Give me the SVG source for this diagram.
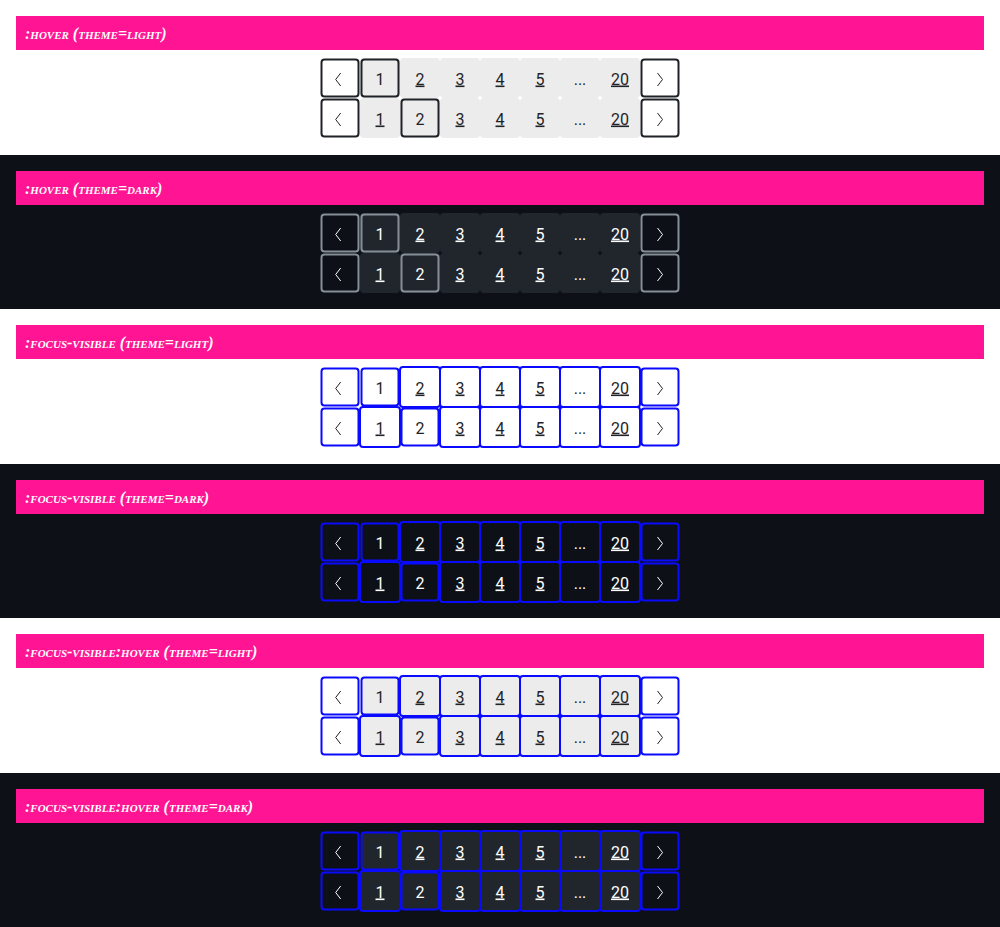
<svg xmlns="http://www.w3.org/2000/svg" width="1000" height="927" viewBox="0 0 1000 927">
<style>
.hdr{fill:#ff1493}
.ht{fill:#fff;font-family:"Liberation Serif",serif;font-size:16px;font-weight:bold;font-style:italic;font-variant:small-caps}
.n{font-family:Roboto,"Liberation Sans",sans-serif;font-size:16px;text-anchor:middle}
.u{text-decoration:underline}
.tl{fill:#1f2328}
.td{fill:#ffffff}
.chl{fill:none;stroke:#1f2328;stroke-width:1}
.chd{fill:none;stroke:#ffffff;stroke-width:1}
.gl{fill:#ececec}
.gd{fill:#21262d}
.bl{stroke:#1f2328;stroke-width:2}
.bd{stroke:#868e96;stroke-width:2}
.fo{stroke:#0a0aff;stroke-width:2}
.w{fill:#fff}
.k{fill:#0d1117}
.nf{fill:none}
</style>
<rect x="0" y="0" width="1000" height="927" fill="#fff"/>

<!-- Section 1: hover light -->
<g id="sec-hover-light" transform="translate(0,0)">
<g id="hdr1"><rect class="hdr" x="16" y="16" width="968" height="34"/><text class="ht" x="25" y="38.5">:hover (theme=light)</text></g>
<g id="pg1">
<g id="pg1-tiles" class="gl">
<rect x="360" y="58" width="40" height="40" rx="4"/><rect x="400" y="58" width="40" height="40" rx="4"/><rect x="440" y="58" width="40" height="40" rx="4"/><rect x="480" y="58" width="40" height="40" rx="4"/><rect x="520" y="58" width="40" height="40" rx="4"/><rect x="560" y="58" width="40" height="40" rx="4"/><rect x="600" y="58" width="40" height="40" rx="4"/>
<rect x="360" y="98" width="40" height="40" rx="4"/><rect x="400" y="98" width="40" height="40" rx="4"/><rect x="440" y="98" width="40" height="40" rx="4"/><rect x="480" y="98" width="40" height="40" rx="4"/><rect x="520" y="98" width="40" height="40" rx="4"/><rect x="560" y="98" width="40" height="40" rx="4"/><rect x="600" y="98" width="40" height="40" rx="4"/>
</g>
<rect class="w bl" x="321.5" y="59.5" width="37" height="37" rx="3"/>
<rect class="nf bl" x="361.5" y="59.5" width="37" height="37" rx="3"/>
<rect class="w bl" x="641.5" y="59.5" width="37" height="37" rx="3"/>
<rect class="w bl" x="321.5" y="99.5" width="37" height="37" rx="3"/>
<rect class="nf bl" x="401.5" y="99.5" width="37" height="37" rx="3"/>
<rect class="w bl" x="641.5" y="99.5" width="37" height="37" rx="3"/>
<path class="chl" d="M340.7 73L335.7 79.5L340.7 86M657.5 73L662.5 79.5L657.5 86M340.7 113L335.7 119.5L340.7 126M657.5 113L662.5 119.5L657.5 126"/>
<g class="tl">
<text class="n" x="380" y="84.5">1</text><text class="n u" x="420" y="84.5">2</text><text class="n u" x="460" y="84.5">3</text><text class="n u" x="500" y="84.5">4</text><text class="n u" x="540" y="84.5">5</text><text class="n" x="580" y="84.5">...</text><text class="n u" x="620" y="84.5">20</text>
<text class="n u" x="380" y="124.5">1</text><text class="n" x="420" y="124.5">2</text><text class="n u" x="460" y="124.5">3</text><text class="n u" x="500" y="124.5">4</text><text class="n u" x="540" y="124.5">5</text><text class="n" x="580" y="124.5">...</text><text class="n u" x="620" y="124.5">20</text>
</g>
</g>
</g>

<!-- Section 2: hover dark -->
<g id="sec-hover-dark" transform="translate(0,155)">
<rect class="k" x="0" y="0" width="1000" height="154"/>
<g id="hdr2"><rect class="hdr" x="16" y="16" width="968" height="34"/><text class="ht" x="25" y="38.5">:hover (theme=dark)</text></g>
<g id="pg2">
<g id="pg2-tiles" class="gd">
<rect x="360" y="58" width="40" height="40" rx="4"/><rect x="400" y="58" width="40" height="40" rx="4"/><rect x="440" y="58" width="40" height="40" rx="4"/><rect x="480" y="58" width="40" height="40" rx="4"/><rect x="520" y="58" width="40" height="40" rx="4"/><rect x="560" y="58" width="40" height="40" rx="4"/><rect x="600" y="58" width="40" height="40" rx="4"/>
<rect x="360" y="98" width="40" height="40" rx="4"/><rect x="400" y="98" width="40" height="40" rx="4"/><rect x="440" y="98" width="40" height="40" rx="4"/><rect x="480" y="98" width="40" height="40" rx="4"/><rect x="520" y="98" width="40" height="40" rx="4"/><rect x="560" y="98" width="40" height="40" rx="4"/><rect x="600" y="98" width="40" height="40" rx="4"/>
</g>
<rect class="k bd" x="321.5" y="59.5" width="37" height="37" rx="3"/>
<rect class="nf bd" x="361.5" y="59.5" width="37" height="37" rx="3"/>
<rect class="k bd" x="641.5" y="59.5" width="37" height="37" rx="3"/>
<rect class="k bd" x="321.5" y="99.5" width="37" height="37" rx="3"/>
<rect class="nf bd" x="401.5" y="99.5" width="37" height="37" rx="3"/>
<rect class="k bd" x="641.5" y="99.5" width="37" height="37" rx="3"/>
<path class="chd" d="M340.7 73L335.7 79.5L340.7 86M657.5 73L662.5 79.5L657.5 86M340.7 113L335.7 119.5L340.7 126M657.5 113L662.5 119.5L657.5 126"/>
<g class="td">
<text class="n" x="380" y="84.5">1</text><text class="n u" x="420" y="84.5">2</text><text class="n u" x="460" y="84.5">3</text><text class="n u" x="500" y="84.5">4</text><text class="n u" x="540" y="84.5">5</text><text class="n" x="580" y="84.5">...</text><text class="n u" x="620" y="84.5">20</text>
<text class="n u" x="380" y="124.5">1</text><text class="n" x="420" y="124.5">2</text><text class="n u" x="460" y="124.5">3</text><text class="n u" x="500" y="124.5">4</text><text class="n u" x="540" y="124.5">5</text><text class="n" x="580" y="124.5">...</text><text class="n u" x="620" y="124.5">20</text>
</g>
</g>
</g>

<!-- Section 3: focus-visible light -->
<g id="sec-focus-light" transform="translate(0,309)">
<g id="hdr3"><rect class="hdr" x="16" y="16" width="968" height="34"/><text class="ht" x="25" y="38.5">:focus-visible (theme=light)</text></g>
<g id="pg3" class="w fo">
<rect x="321.5" y="59.5" width="37" height="37" rx="3"/>
<rect x="361.5" y="59.5" width="37" height="37" rx="3"/>
<rect x="641.5" y="59.5" width="37" height="37" rx="3"/>
<rect x="400" y="58" width="40" height="40" rx="3"/><rect x="440" y="58" width="40" height="40" rx="3"/><rect x="480" y="58" width="40" height="40" rx="3"/><rect x="520" y="58" width="40" height="40" rx="3"/><rect x="560" y="58" width="40" height="40" rx="3"/><rect x="600" y="58" width="40" height="40" rx="3"/>
<rect x="321.5" y="99.5" width="37" height="37" rx="3"/>
<rect x="401.5" y="99.5" width="37" height="37" rx="3"/>
<rect x="641.5" y="99.5" width="37" height="37" rx="3"/>
<rect x="360" y="98" width="40" height="40" rx="3"/><rect x="440" y="98" width="40" height="40" rx="3"/><rect x="480" y="98" width="40" height="40" rx="3"/><rect x="520" y="98" width="40" height="40" rx="3"/><rect x="560" y="98" width="40" height="40" rx="3"/><rect x="600" y="98" width="40" height="40" rx="3"/>
</g>
<path class="chl" d="M340.7 73L335.7 79.5L340.7 86M657.5 73L662.5 79.5L657.5 86M340.7 113L335.7 119.5L340.7 126M657.5 113L662.5 119.5L657.5 126"/>
<g class="tl">
<text class="n" x="380" y="84.5">1</text><text class="n u" x="420" y="84.5">2</text><text class="n u" x="460" y="84.5">3</text><text class="n u" x="500" y="84.5">4</text><text class="n u" x="540" y="84.5">5</text><text class="n" x="580" y="84.5">...</text><text class="n u" x="620" y="84.5">20</text>
<text class="n u" x="380" y="124.5">1</text><text class="n" x="420" y="124.5">2</text><text class="n u" x="460" y="124.5">3</text><text class="n u" x="500" y="124.5">4</text><text class="n u" x="540" y="124.5">5</text><text class="n" x="580" y="124.5">...</text><text class="n u" x="620" y="124.5">20</text>
</g>
</g>

<!-- Section 4: focus-visible dark -->
<g id="sec-focus-dark" transform="translate(0,464)">
<rect class="k" x="0" y="0" width="1000" height="154"/>
<g id="hdr4"><rect class="hdr" x="16" y="16" width="968" height="34"/><text class="ht" x="25" y="38.5">:focus-visible (theme=dark)</text></g>
<g id="pg4" class="k fo">
<rect x="321.5" y="59.5" width="37" height="37" rx="3"/>
<rect x="361.5" y="59.5" width="37" height="37" rx="3"/>
<rect x="641.5" y="59.5" width="37" height="37" rx="3"/>
<rect x="400" y="58" width="40" height="40" rx="3"/><rect x="440" y="58" width="40" height="40" rx="3"/><rect x="480" y="58" width="40" height="40" rx="3"/><rect x="520" y="58" width="40" height="40" rx="3"/><rect x="560" y="58" width="40" height="40" rx="3"/><rect x="600" y="58" width="40" height="40" rx="3"/>
<rect x="321.5" y="99.5" width="37" height="37" rx="3"/>
<rect x="401.5" y="99.5" width="37" height="37" rx="3"/>
<rect x="641.5" y="99.5" width="37" height="37" rx="3"/>
<rect x="360" y="98" width="40" height="40" rx="3"/><rect x="440" y="98" width="40" height="40" rx="3"/><rect x="480" y="98" width="40" height="40" rx="3"/><rect x="520" y="98" width="40" height="40" rx="3"/><rect x="560" y="98" width="40" height="40" rx="3"/><rect x="600" y="98" width="40" height="40" rx="3"/>
</g>
<path class="chd" d="M340.7 73L335.7 79.5L340.7 86M657.5 73L662.5 79.5L657.5 86M340.7 113L335.7 119.5L340.7 126M657.5 113L662.5 119.5L657.5 126"/>
<g class="td">
<text class="n" x="380" y="84.5">1</text><text class="n u" x="420" y="84.5">2</text><text class="n u" x="460" y="84.5">3</text><text class="n u" x="500" y="84.5">4</text><text class="n u" x="540" y="84.5">5</text><text class="n" x="580" y="84.5">...</text><text class="n u" x="620" y="84.5">20</text>
<text class="n u" x="380" y="124.5">1</text><text class="n" x="420" y="124.5">2</text><text class="n u" x="460" y="124.5">3</text><text class="n u" x="500" y="124.5">4</text><text class="n u" x="540" y="124.5">5</text><text class="n" x="580" y="124.5">...</text><text class="n u" x="620" y="124.5">20</text>
</g>
</g>

<!-- Section 5: focus-visible:hover light -->
<g id="sec-focus-hover-light" transform="translate(0,618)">
<g id="hdr5"><rect class="hdr" x="16" y="16" width="968" height="34"/><text class="ht" x="25" y="38.5">:focus-visible:hover (theme=light)</text></g>
<g id="pg5" class="fo">
<rect class="w" x="321.5" y="59.5" width="37" height="37" rx="3"/>
<rect class="gl" x="361.5" y="59.5" width="37" height="37" rx="3"/>
<rect class="w" x="641.5" y="59.5" width="37" height="37" rx="3"/>
<g class="gl"><rect x="400" y="58" width="40" height="40" rx="3"/><rect x="440" y="58" width="40" height="40" rx="3"/><rect x="480" y="58" width="40" height="40" rx="3"/><rect x="520" y="58" width="40" height="40" rx="3"/><rect x="560" y="58" width="40" height="40" rx="3"/><rect x="600" y="58" width="40" height="40" rx="3"/></g>
<rect class="w" x="321.5" y="99.5" width="37" height="37" rx="3"/>
<rect class="gl" x="401.5" y="99.5" width="37" height="37" rx="3"/>
<rect class="w" x="641.5" y="99.5" width="37" height="37" rx="3"/>
<g class="gl"><rect x="360" y="98" width="40" height="40" rx="3"/><rect x="440" y="98" width="40" height="40" rx="3"/><rect x="480" y="98" width="40" height="40" rx="3"/><rect x="520" y="98" width="40" height="40" rx="3"/><rect x="560" y="98" width="40" height="40" rx="3"/><rect x="600" y="98" width="40" height="40" rx="3"/></g>
</g>
<path class="chl" d="M340.7 73L335.7 79.5L340.7 86M657.5 73L662.5 79.5L657.5 86M340.7 113L335.7 119.5L340.7 126M657.5 113L662.5 119.5L657.5 126"/>
<g class="tl">
<text class="n" x="380" y="84.5">1</text><text class="n u" x="420" y="84.5">2</text><text class="n u" x="460" y="84.5">3</text><text class="n u" x="500" y="84.5">4</text><text class="n u" x="540" y="84.5">5</text><text class="n" x="580" y="84.5">...</text><text class="n u" x="620" y="84.5">20</text>
<text class="n u" x="380" y="124.5">1</text><text class="n" x="420" y="124.5">2</text><text class="n u" x="460" y="124.5">3</text><text class="n u" x="500" y="124.5">4</text><text class="n u" x="540" y="124.5">5</text><text class="n" x="580" y="124.5">...</text><text class="n u" x="620" y="124.5">20</text>
</g>
</g>

<!-- Section 6: focus-visible:hover dark -->
<g id="sec-focus-hover-dark" transform="translate(0,773)">
<rect class="k" x="0" y="0" width="1000" height="154"/>
<g id="hdr6"><rect class="hdr" x="16" y="16" width="968" height="34"/><text class="ht" x="25" y="38.5">:focus-visible:hover (theme=dark)</text></g>
<g id="pg6" class="fo">
<rect class="k" x="321.5" y="59.5" width="37" height="37" rx="3"/>
<rect class="gd" x="361.5" y="59.5" width="37" height="37" rx="3"/>
<rect class="k" x="641.5" y="59.5" width="37" height="37" rx="3"/>
<g class="gd"><rect x="400" y="58" width="40" height="40" rx="3"/><rect x="440" y="58" width="40" height="40" rx="3"/><rect x="480" y="58" width="40" height="40" rx="3"/><rect x="520" y="58" width="40" height="40" rx="3"/><rect x="560" y="58" width="40" height="40" rx="3"/><rect x="600" y="58" width="40" height="40" rx="3"/></g>
<rect class="k" x="321.5" y="99.5" width="37" height="37" rx="3"/>
<rect class="gd" x="401.5" y="99.5" width="37" height="37" rx="3"/>
<rect class="k" x="641.5" y="99.5" width="37" height="37" rx="3"/>
<g class="gd"><rect x="360" y="98" width="40" height="40" rx="3"/><rect x="440" y="98" width="40" height="40" rx="3"/><rect x="480" y="98" width="40" height="40" rx="3"/><rect x="520" y="98" width="40" height="40" rx="3"/><rect x="560" y="98" width="40" height="40" rx="3"/><rect x="600" y="98" width="40" height="40" rx="3"/></g>
</g>
<path class="chd" d="M340.7 73L335.7 79.5L340.7 86M657.5 73L662.5 79.5L657.5 86M340.7 113L335.7 119.5L340.7 126M657.5 113L662.5 119.5L657.5 126"/>
<g class="td">
<text class="n" x="380" y="84.5">1</text><text class="n u" x="420" y="84.5">2</text><text class="n u" x="460" y="84.5">3</text><text class="n u" x="500" y="84.5">4</text><text class="n u" x="540" y="84.5">5</text><text class="n" x="580" y="84.5">...</text><text class="n u" x="620" y="84.5">20</text>
<text class="n u" x="380" y="124.5">1</text><text class="n" x="420" y="124.5">2</text><text class="n u" x="460" y="124.5">3</text><text class="n u" x="500" y="124.5">4</text><text class="n u" x="540" y="124.5">5</text><text class="n" x="580" y="124.5">...</text><text class="n u" x="620" y="124.5">20</text>
</g>
</g>
</svg>
